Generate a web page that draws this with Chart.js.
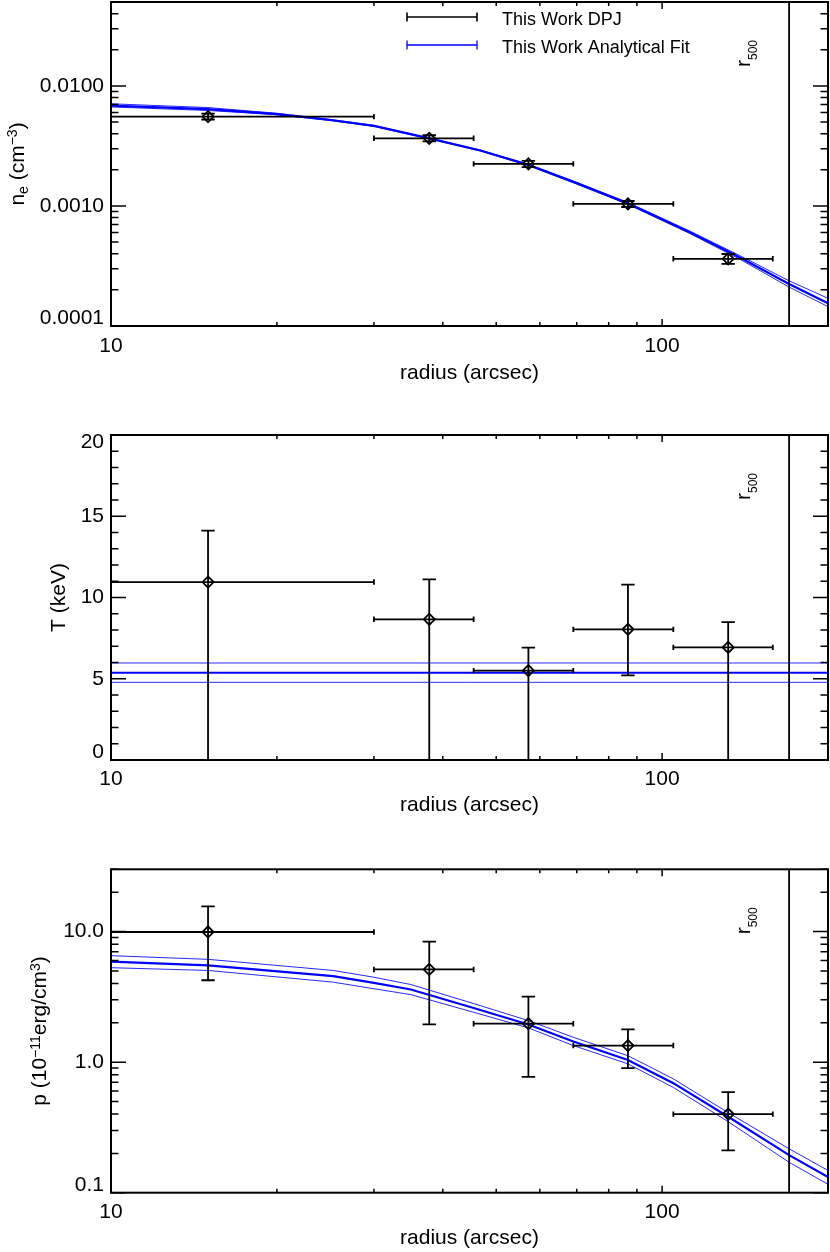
<!DOCTYPE html>
<html>
<head>
<meta charset="utf-8">
<script src="https://cdn.jsdelivr.net/npm/chart.js@4.4.1/dist/chart.umd.min.js"></script>
<style>
html,body{margin:0;padding:0;background:#fff;}
#wrap{position:relative;width:830px;height:1252px;overflow:hidden;background:#fff;}
canvas{position:absolute;left:0;}
</style>
</head>
<body>
<div id="wrap">
<canvas id="c1" width="830" height="400" style="top:0px"></canvas>
<canvas id="c2" width="830" height="400" style="top:420px"></canvas>
<canvas id="c3" width="830" height="400" style="top:852px"></canvas>
</div>
<script>
// ---------------- data ----------------
const radiusCenter = [15.0, 37.8, 57.2, 86.7, 131.8];
const radiusInner  = [10.0, 30.0, 45.5, 69.0, 104.8];
const radiusOuter  = [30.0, 45.5, 69.0, 104.8, 158.8];

const densityValue = [0.00555, 0.00366, 0.00224, 0.00104, 0.000363];
const densityLow   = [0.00525, 0.00345, 0.00211, 0.00098, 0.000329];
const densityHigh  = [0.00587, 0.00388, 0.00237, 0.00110, 0.000398];

const tempValue = [10.95, 8.66, 5.50, 8.04, 6.93];
const tempLow   = [0, 0, 0, 5.21, 0];
const tempHigh  = [14.11, 11.12, 6.91, 10.79, 8.49];

const pressValue = [9.93, 5.13, 1.97, 1.34, 0.40];
const pressLow   = [4.24, 1.95, 0.771, 0.90, 0.211];
const pressHigh  = [15.6, 8.38, 3.18, 1.78, 0.59];

const densityFitRadius = [10, 15, 20, 25, 30, 37.8, 46.8, 57.2, 70, 86.7, 112.5, 138.7, 170, 200];
const densityFitMid  = [0.00685, 0.00640, 0.00583, 0.00520, 0.00465, 0.00366, 0.00290, 0.00220, 0.00155, 0.00105, 0.000600, 0.000370, 0.000224, 0.000155];
const densityFitUp   = [0.00710, 0.00660, 0.00592, 0.00526, 0.00469, 0.00368, 0.00292, 0.00222, 0.00157, 0.00107, 0.000615, 0.000384, 0.000238, 0.000170];
const densityFitDown = [0.00668, 0.00624, 0.00575, 0.00515, 0.00461, 0.00362, 0.00287, 0.00217, 0.00152, 0.00103, 0.000587, 0.000358, 0.000211, 0.000145];

const tempFitRadius = [10, 200];
const tempFitMid  = [5.37, 5.37];
const tempFitUp   = [5.97, 5.97];
const tempFitDown = [4.78, 4.78];

const pressFitRadius = [10, 15, 25.3, 30, 35, 45.5, 57.2, 69, 86.7, 104.8, 131.8, 170, 200];
const pressFitMid  = [5.88, 5.51, 4.56, 4.05, 3.60, 2.60, 1.94, 1.44, 1.04, 0.690, 0.382, 0.194, 0.132];
const pressFitUp   = [6.54, 6.13, 5.04, 4.47, 3.93, 2.81, 2.08, 1.55, 1.12, 0.745, 0.41, 0.217, 0.148];
const pressFitDown = [5.29, 5.04, 4.10, 3.65, 3.29, 2.41, 1.83, 1.34, 0.97, 0.640, 0.35, 0.171, 0.116];

const r500 = 170;

const xTickValues = [10, 100];
const xTickLabels = ['10', '100'];
const densityTickValues = [0.0001, 0.001, 0.01];
const densityTickLabels = ['0.0001', '0.0010', '0.0100'];
const tempTickValues = [0, 5, 10, 15, 20];
const tempTickLabels = ['0', '5', '10', '15', '20'];
const pressTickValues = [0.1, 1, 10];
const pressTickLabels = ['0.1', '1.0', '10.0'];

const xAxisTitle = 'radius (arcsec)';
const densityTitle = [['n', 0], ['e', -1], [' (cm', 0], ['\u22123', 1], [')', 0]];
const tempTitle = [['T (keV)', 0]];
const pressTitle = [['p (10', 0], ['\u221211', 1], ['erg/cm', 0], ['3', 1], [')', 0]];
const r500Label = [['r', 0], ['500', -1]];
const legendLabels = ['This Work DPJ', 'This Work Analytical Fit'];

// ---------------- drawing helpers ----------------
const FONT = '"Liberation Sans", Arial, Helvetica, sans-serif';
const BLUE = '#0000ff';
const THIN_BLUE = '#2828ff';

function drawRich(ctx, segs, x, y, rot, size, align, subSize, subShift, supShift) {
  ctx.save();
  ctx.translate(x, y);
  ctx.rotate(rot);
  ctx.textBaseline = 'alphabetic';
  ctx.textAlign = 'left';
  ctx.fillStyle = '#000';
  const fs = k => (k === 0 ? size : subSize);
  let total = 0;
  for (const [t, k] of segs) { ctx.font = fs(k) + 'px ' + FONT; total += ctx.measureText(t).width; }
  let cx = align === 'center' ? -total / 2 : 0;
  for (const [t, k] of segs) {
    ctx.font = fs(k) + 'px ' + FONT;
    const dy = k === 1 ? -supShift : (k === -1 ? subShift : 0);
    ctx.fillText(t, cx, dy);
    cx += ctx.measureText(t).width;
  }
  ctx.restore();
}

function minorValues(scale) {
  const out = [];
  const min = scale.min, max = scale.max;
  if (scale.type === 'logarithmic') {
    const e0 = Math.floor(Math.log10(min) + 1e-9), e1 = Math.ceil(Math.log10(max) - 1e-9);
    for (let e = e0; e <= e1; e++) {
      for (let k = 1; k <= 9; k++) {
        const v = k * Math.pow(10, e);
        if (v >= min * 0.9999 && v <= max * 1.0001) out.push({ v, major: k === 1 });
      }
    }
  } else {
    const step = scale.options.minorStep;
    for (let v = min; v <= max + 1e-9; v += step) out.push({ v, major: Math.abs(v / 5 - Math.round(v / 5)) < 1e-9 });
  }
  return out;
}

const idlPlugin = {
  id: 'idl',
  beforeDraw(chart) {
    const o = chart.options.plugins.idl;
    const area = chart.chartArea;
    const items = chart.scales.y.getLabelItems();
    items.forEach(it => {
      const t = it.options.translation;
      if (t[1] > area.bottom - o.labelHalf) t[1] = area.bottom - o.labelHalf;
      if (t[1] < area.top + o.labelHalf) t[1] = area.top + o.labelHalf;
    });
  },
  afterDatasetsDraw(chart) {
    const o = chart.options.plugins.idl;
    const ctx = chart.ctx, area = chart.chartArea;
    const xs = chart.scales.x, ys = chart.scales.y;
    const e = o.errors;
    ctx.save();
    ctx.beginPath();
    ctx.rect(area.left, area.top, area.right - area.left, area.bottom - area.top);
    ctx.clip();
    ctx.strokeStyle = '#000';
    ctx.lineWidth = 1.8;
    for (let i = 0; i < e.x.length; i++) {
      const px = xs.getPixelForValue(e.x[i]), py = ys.getPixelForValue(e.y[i]);
      const x0 = xs.getPixelForValue(e.xlo[i]), x1 = xs.getPixelForValue(e.xhi[i]);
      const y0 = ys.getPixelForValue(e.ylo[i]), y1 = ys.getPixelForValue(e.yhi[i]);
      ctx.beginPath();
      ctx.moveTo(x0, py); ctx.lineTo(x1, py);
      ctx.moveTo(x0, py - 2.7); ctx.lineTo(x0, py + 2.7);
      ctx.moveTo(x1, py - 2.7); ctx.lineTo(x1, py + 2.7);
      ctx.moveTo(px, y0); ctx.lineTo(px, y1);
      ctx.moveTo(px - 6.7, y0); ctx.lineTo(px + 6.7, y0);
      ctx.moveTo(px - 6.7, y1); ctx.lineTo(px + 6.7, y1);
      ctx.stroke();
    }
    const rx = xs.getPixelForValue(o.r500);
    ctx.lineWidth = 1.8;
    ctx.beginPath(); ctx.moveTo(rx, area.top); ctx.lineTo(rx, area.bottom); ctx.stroke();
    ctx.restore();
  },
  afterDraw(chart) {
    const o = chart.options.plugins.idl;
    const ctx = chart.ctx, area = chart.chartArea;
    const xs = chart.scales.x, ys = chart.scales.y;
    ctx.save();
    ctx.strokeStyle = '#000';
    ctx.lineWidth = 1.5;
    ctx.beginPath();
    for (const t of minorValues(xs)) {
      const p = xs.getPixelForValue(t.v);
      const len = t.major ? 7 : 4;
      ctx.moveTo(p, area.bottom); ctx.lineTo(p, area.bottom - len);
      ctx.moveTo(p, area.top); ctx.lineTo(p, area.top + len);
    }
    for (const t of minorValues(ys)) {
      const p = ys.getPixelForValue(t.v);
      const len = t.major ? 15 : 7.5;
      ctx.moveTo(area.left, p); ctx.lineTo(area.left + len, p);
      ctx.moveTo(area.right, p); ctx.lineTo(area.right - len, p);
    }
    ctx.stroke();
    ctx.lineWidth = 2;
    ctx.strokeRect(area.left, area.top, area.right - area.left, area.bottom - area.top);
    ctx.restore();
    drawRich(ctx, o.yTitle, o.yTitleX, (area.top + area.bottom) / 2, -Math.PI / 2, 21, 'center', 14, 4.6, 6.5);
    const rx = xs.getPixelForValue(o.r500);
    drawRich(ctx, r500Label, rx - 39, area.top + 65, -Math.PI / 2, 21, 'left', 12, 7, 6);
    if (o.legend) {
      const L = o.legend;
      ctx.save();
      L.items.forEach((it, i) => {
        const y = L.y0 + i * L.dy;
        ctx.strokeStyle = it.color;
        ctx.lineWidth = it.width;
        ctx.beginPath();
        ctx.moveTo(L.x0, y); ctx.lineTo(L.x1, y);
        ctx.moveTo(L.x0, y - 4.5); ctx.lineTo(L.x0, y + 4.5);
        ctx.moveTo(L.x1, y - 4.5); ctx.lineTo(L.x1, y + 4.5);
        ctx.stroke();
        ctx.fillStyle = '#000';
        ctx.font = '18px ' + FONT;
        ctx.textBaseline = 'middle';
        ctx.textAlign = 'left';
        ctx.fillText(it.label, L.tx, y + L.textDy);
      });
      ctx.restore();
    }
  }
};

function pts(xa, ya) { return xa.map((x, i) => ({ x, y: ya[i] })); }

function buildPanel(id, spec) {
  const datasets = [
    { label: legendLabels[0], data: pts(radiusCenter, spec.value), showLine: false,
      pointStyle: 'rectRot', pointRadius: 5.6, pointBorderWidth: 1.8,
      borderColor: '#000', pointBorderColor: '#000', backgroundColor: 'rgba(0,0,0,0)', pointBackgroundColor: 'rgba(0,0,0,0)' },
    { label: legendLabels[1], data: pts(spec.fitR, spec.fitMid), showLine: true, borderColor: BLUE, borderWidth: 2.2, pointRadius: 0, clip: 0 },
    { label: legendLabels[1] + ' upper', data: pts(spec.fitR, spec.fitUp), showLine: true, borderColor: THIN_BLUE, borderWidth: 1, pointRadius: 0, clip: 0 },
    { label: legendLabels[1] + ' lower', data: pts(spec.fitR, spec.fitDown), showLine: true, borderColor: THIN_BLUE, borderWidth: 1, pointRadius: 0, clip: 0 }
  ];
  return new Chart(document.getElementById(id), {
    type: 'scatter',
    data: { datasets },
    options: {
      responsive: false, animation: false, events: [],
      layout: { autoPadding: false, padding: { top: spec.areaTop, right: 2, left: 0, bottom: 0 } },
      scales: {
        x: {
          type: 'logarithmic', position: 'bottom', min: 10, max: 200,
          grid: { display: false, drawTicks: false }, border: { display: false },
          afterBuildTicks: s => { s.ticks = xTickValues.map(v => ({ value: v })); },
          afterFit: s => { s.height = spec.height - spec.areaBottom; s.paddingLeft = 0; s.paddingRight = 0; },
          ticks: {
            autoSkip: false, maxRotation: 0, minRotation: 0, padding: spec.xTickPad, color: '#000',
            font: { family: FONT, size: 21 },
            callback: v => { const i = xTickValues.indexOf(v); return i < 0 ? '' : xTickLabels[i]; }
          },
          title: { display: true, text: xAxisTitle, color: '#000', font: { family: FONT, size: 21 }, padding: { top: 0, bottom: spec.xTitlePad } }
        },
        y: {
          type: spec.yType, position: 'left', min: spec.yMin, max: spec.yMax, minorStep: 1,
          grid: { display: false, drawTicks: false }, border: { display: false },
          afterBuildTicks: s => { s.ticks = spec.yTickValues.map(v => ({ value: v })); },
          afterFit: s => { s.width = 111; s.paddingTop = 0; s.paddingBottom = 0; },
          ticks: {
            autoSkip: false, padding: 7, color: '#000', font: { family: FONT, size: 21 },
            callback: v => { const i = spec.yTickValues.indexOf(v); return i < 0 ? '' : spec.yTickLabels[i]; }
          }
        }
      },
      plugins: {
        legend: { display: false }, tooltip: { enabled: false },
        idl: {
          labelHalf: 7.5, r500: r500, yTitle: spec.yTitle, yTitleX: spec.yTitleX,
          errors: { x: radiusCenter, xlo: radiusInner, xhi: radiusOuter, y: spec.value, ylo: spec.low, yhi: spec.high },
          legend: spec.legend || null
        }
      }
    },
    plugins: [idlPlugin]
  });
}

buildPanel('c1', {
  height: 400, areaTop: 2, areaBottom: 326, xTickPad: 8, xTitlePad: 14,
  yType: 'logarithmic', yMin: 0.0001, yMax: 0.05,
  yTickValues: densityTickValues, yTickLabels: densityTickLabels,
  yTitle: densityTitle, yTitleX: 23.5,
  value: densityValue, low: densityLow, high: densityHigh,
  fitR: densityFitRadius, fitMid: densityFitMid, fitUp: densityFitUp, fitDown: densityFitDown,
  legend: {
    x0: 407, x1: 477, y0: 17, dy: 28, tx: 502, textDy: 3.5,
    items: [
      { label: legendLabels[0], color: '#000', width: 1.6 },
      { label: legendLabels[1], color: BLUE, width: 1.3 }
    ]
  }
});

buildPanel('c2', {
  height: 400, areaTop: 15, areaBottom: 340, xTickPad: 6.5, xTitlePad: 2.5,
  yType: 'linear', yMin: 0, yMax: 20,
  yTickValues: tempTickValues, yTickLabels: tempTickLabels,
  yTitle: tempTitle, yTitleX: 65,
  value: tempValue, low: tempLow, high: tempHigh,
  fitR: tempFitRadius, fitMid: tempFitMid, fitUp: tempFitUp, fitDown: tempFitDown
});

buildPanel('c3', {
  height: 400, areaTop: 17.3, areaBottom: 340.7, xTickPad: 6.5, xTitlePad: 1.5,
  yType: 'logarithmic', yMin: 0.1, yMax: 30,
  yTickValues: pressTickValues, yTickLabels: pressTickLabels,
  yTitle: pressTitle, yTitleX: 46,
  value: pressValue, low: pressLow, high: pressHigh,
  fitR: pressFitRadius, fitMid: pressFitMid, fitUp: pressFitUp, fitDown: pressFitDown
});
</script>
</body>
</html>
